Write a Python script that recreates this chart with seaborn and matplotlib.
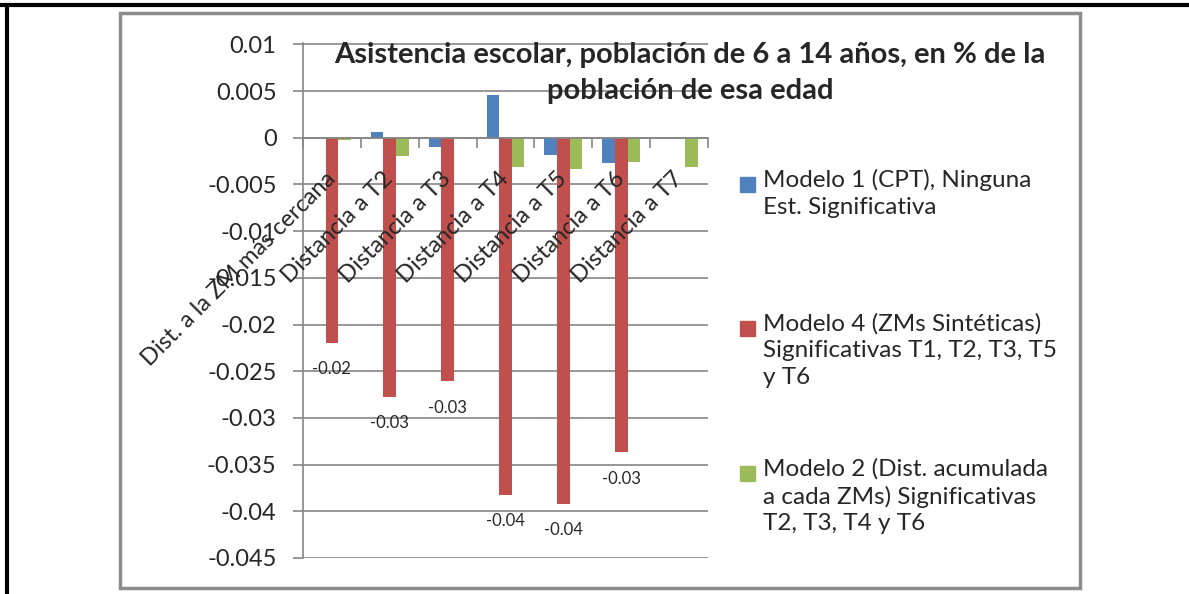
import numpy as np
import pandas as pd
import seaborn as sns
import matplotlib
matplotlib.use('Agg')
from matplotlib import pyplot as plt
from matplotlib.patches import Rectangle
from matplotlib.lines import Line2D

# datos
categorias = ['Dist. a la ZM más cercana', 'Distancia a T2', 'Distancia a T3', 'Distancia a T4',
              'Distancia a T5', 'Distancia a T6', 'Distancia a T7']
modelo1 = [0.0, 0.00065, -0.001, 0.0046, -0.0019, -0.0027, np.nan]
modelo4 = [-0.0220, -0.0278, -0.0261, -0.0383, -0.0392, -0.0337, np.nan]
modelo2 = [-0.0002, -0.0020, -0.0001, -0.0031, -0.0034, -0.0026, -0.0031]
series = ['Modelo 1 (CPT), Ninguna\nEst. Significativa',
          'Modelo 4 (ZMs Sintéticas)\nSignificativas T1, T2, T3, T5\ny T6',
          'Modelo 2 (Dist. acumulada\na cada ZMs) Significativas\nT2, T3, T4 y T6']
colores = ['#4F81BD', '#C0504D', '#9BBB59']
titulo = 'Asistencia escolar, población de 6 a 14 años, en % de la\npoblación de esa edad'

df = pd.DataFrame({'cat': categorias * 3,
                   'valor': modelo1 + modelo4 + modelo2,
                   'serie': [series[0]] * 7 + [series[1]] * 7 + [series[2]] * 7})

sns.set_style('white')
plt.rcParams['font.family'] = ['Lato', 'DejaVu Sans']
gris = '#868686'

fig = plt.figure(figsize=(11.89, 5.94), dpi=100)
ax = fig.add_axes([303 / 1189, 1 - 558 / 594, 405 / 1189, 514.6 / 594])

sns.barplot(data=df, x='cat', y='valor', hue='serie', order=categorias, hue_order=series,
            palette=colores, width=0.655, gap=0, saturation=1, edgecolor='none', legend=False, ax=ax)

ax.set_xlim(-0.5, 6.5)
ax.set_ylim(-0.045, 0.0101)
yt = np.round(np.arange(-0.045, 0.0101, 0.005), 3)
ax.set_yticks(yt)
ax.set_yticklabels(['{:g}'.format(v + 0.0) for v in yt], fontsize=17)
ax.yaxis.grid(True, color=gris, linewidth=1.2)
ax.set_axisbelow(True)
ax.xaxis.set_zorder(5)  # etiquetas del eje x encima de las barras
ax.tick_params(axis='y', length=7, color=gris, width=1.2, pad=12, left=True)

# eje x en el cero, marcas entre categorias
for s in ['top', 'right']:
    ax.spines[s].set_visible(False)
ax.spines['bottom'].set_position(('data', 0))
ax.spines['bottom'].set_color(gris)
ax.spines['left'].set_color(gris)
ax.spines['bottom'].set_linewidth(1.2)
ax.spines['left'].set_linewidth(1.2)
ax.set_xticks(np.arange(-0.5, 7, 1), minor=True)
ax.tick_params(axis='x', which='minor', length=7, color=gris, width=1.2, bottom=True)
ax.tick_params(axis='x', which='major', length=0, pad=27)
ax.set_xticks(range(7))
ax.set_xticklabels(categorias, rotation=45, ha='right', va='center', rotation_mode='anchor', fontsize=17)
ax.set_xlabel('')
ax.set_ylabel('')

# etiquetas de datos del modelo 4
ax.bar_label(ax.containers[1], fmt='%.2f', padding=13, fontsize=12)

fig.text(690 / 1189, 1 - 42 / 594, titulo, ha='center', va='top', fontsize=21,
         fontweight='bold', linespacing=1.5)

# leyenda manual
ys = [184, 328, 473]
for y, lab, c in zip(ys, series, colores):
    fig.add_artist(Rectangle((740 / 1189, 1 - (y + 7.5) / 594), 15 / 1189, 15 / 594,
                             transform=fig.transFigure, color=c))
    fig.text(763 / 1189, 1 - (y - 15) / 594, lab, ha='left', va='top', fontsize=17.5, linespacing=1.33)

# marcos
fig.add_artist(Rectangle((120 / 1189, 1 - 588 / 594), 960 / 1189, 575 / 594, transform=fig.transFigure,
                         fill=False, edgecolor='#8c8c8c', linewidth=2.5))
fig.add_artist(Line2D([0, 1], [1 - 5 / 594, 1 - 5 / 594], transform=fig.transFigure, color='black', linewidth=3))
fig.add_artist(Line2D([7 / 1189, 7 / 1189], [0, 1 - 5 / 594], transform=fig.transFigure, color='black', linewidth=3))

fig.savefig('out.png', dpi=100)
